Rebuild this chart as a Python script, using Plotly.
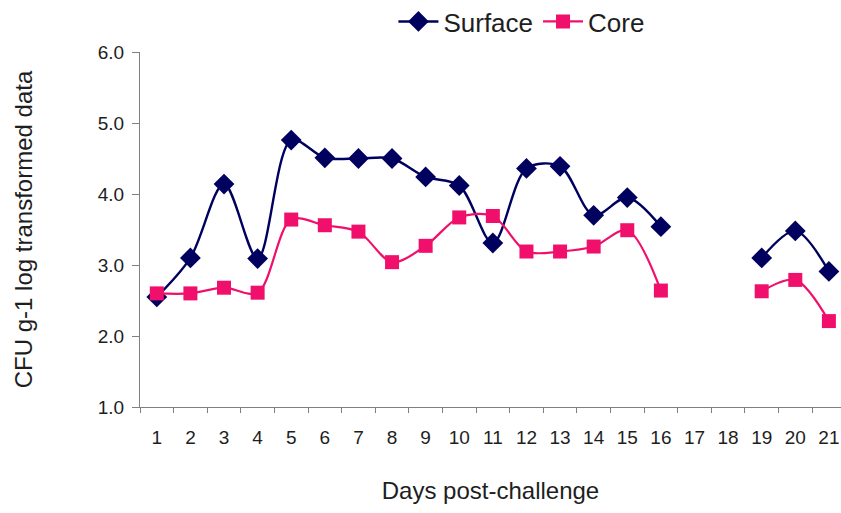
import plotly.graph_objects as go

# Sampling days (17 and 18 have no measurements)
days = [str(d) for d in range(1, 22)]

# CFU g-1, log transformed
surface = [2.55, 3.10, 4.14, 3.09, 4.76, 4.51, 4.50, 4.50, 4.24, 4.12,
           3.31, 4.36, 4.39, 3.70, 3.95, 3.54, None, None, 3.10, 3.48, 2.91]
core = [2.60, 2.60, 2.68, 2.61, 3.64, 3.56, 3.47, 3.04, 3.27, 3.67,
        3.69, 3.19, 3.19, 3.26, 3.49, 2.64, None, None, 2.63, 2.79, 2.21]

NAVY = "#00005E"
PINK = "#F0106C"
FONT = "Liberation Sans, Arial, sans-serif"
TEXT = "#1e1e1e"

fig = go.Figure()
fig.add_trace(go.Scatter(
    x=days, y=surface, name="Surface", mode="lines+markers",
    line=dict(color=NAVY, width=2.4, shape="spline", smoothing=0.9),
    marker=dict(symbol="diamond", size=16, color=NAVY),
    connectgaps=False,
))
fig.add_trace(go.Scatter(
    x=days, y=core, name="Core", mode="lines+markers",
    line=dict(color=PINK, width=2.2, shape="spline", smoothing=0.9),
    marker=dict(symbol="square", size=14, color=PINK),
    connectgaps=False,
))

fig.update_layout(
    width=841, height=513,
    margin=dict(l=140, r=0, t=52, b=106, autoexpand=False),
    paper_bgcolor="white", plot_bgcolor="white",
    font=dict(family=FONT, size=19, color=TEXT),
    showlegend=True,
    legend=dict(
        orientation="h", xref="container", yref="container",
        x=0.62, y=0.958, xanchor="center", yanchor="middle",
        font=dict(family=FONT, size=26, color=TEXT),
        itemwidth=40, bgcolor="rgba(0,0,0,0)",
    ),
)

fig.update_xaxes(
    type="category", range=[-0.5, 20.36],
    tickson="boundaries", ticks="outside", ticklen=5, tickcolor="#808080",
    showline=True, linecolor="#808080", linewidth=1.2,
    showgrid=False, zeroline=False, ticklabelstandoff=13,
    tickfont=dict(family=FONT, size=19, color=TEXT),
    title=dict(text="Days post-challenge", standoff=35,
               font=dict(family=FONT, size=24, color=TEXT)),
)
fig.update_yaxes(
    range=[1.0, 6.0], tickvals=[1, 2, 3, 4, 5, 6], tickformat=".1f",
    ticks="outside", ticklen=7, tickcolor="#808080",
    showline=True, linecolor="#808080", linewidth=1.2,
    showgrid=False, zeroline=False, ticklabelstandoff=4,
    tickfont=dict(family=FONT, size=19, color=TEXT),
    title=dict(text="CFU g-1 log transformed data", standoff=58,
               font=dict(family=FONT, size=24, color=TEXT)),
)

fig.write_html("out.html")
